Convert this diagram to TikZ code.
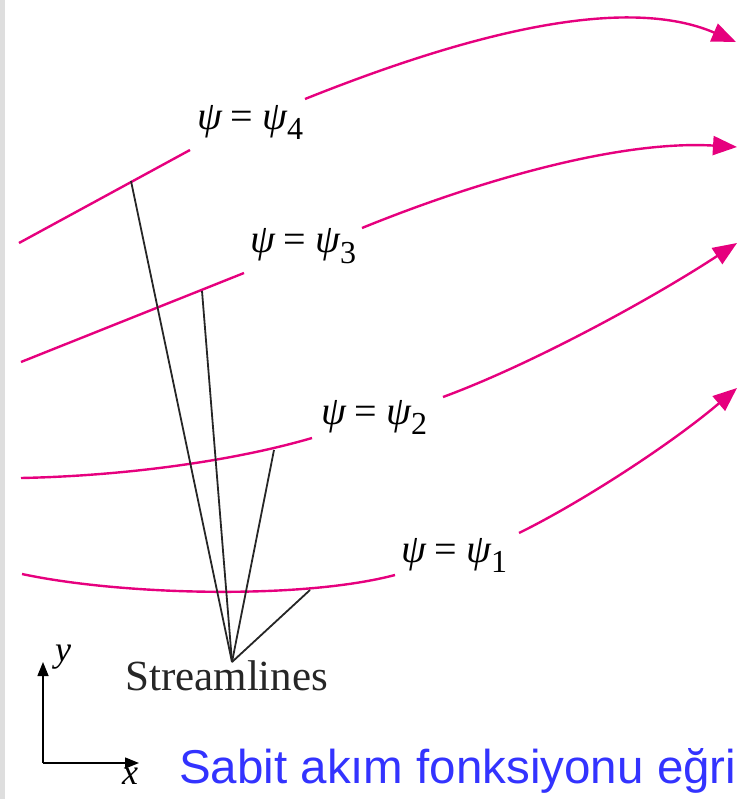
\documentclass[tikz,border=0pt]{standalone}
\usepackage{fontspec}
\setmainfont{Liberation Serif}
\newfontfamily\arialfont{Liberation Sans}
\usetikzlibrary{arrows.meta}
\definecolor{mag}{HTML}{E6007E}
\definecolor{sblue}{HTML}{3333FF}
\definecolor{lgrey}{HTML}{DEDEDE}
\newcommand{\psilabel}[1]{{\itshape ψ}\hspace{0.22em}=\hspace{0.22em}{\itshape ψ}\raisebox{-10pt}{\fontsize{32}{34}\selectfont #1}}
\begin{document}
\begin{tikzpicture}[x=1pt,y=-1pt,
  stream/.style={draw=mag, line width=2.4pt},
  streamarrow/.style={stream, -{Triangle[length=24pt,width=19pt]}},
  pointer/.style={draw=black!85, line width=1.8pt},
  axisarrow/.style={draw=black, line width=1.5pt, -{Triangle[length=14pt,width=11pt]}},
  psilbl/.style={font=\fontsize{40}{44}\selectfont, anchor=base west, inner sep=0pt},
  axlbl/.style={font=\fontsize{36}{40}\selectfont\itshape, inner sep=0pt}]
\useasboundingbox (0,0) rectangle (741,799);
\fill[lgrey] (0,0) rectangle (5,799);

% streamline 4
\coordinate (a4) at (19,243);
\coordinate (b4) at (190,150);
\coordinate (c4) at (305,99);
\coordinate (d4) at (736,42);
\draw[stream] (a4) -- (b4);
\draw[streamarrow] (c4) .. controls (455,39) and (620,-8) .. (d4);
\node[psilbl] (l4) at (197,130) {\psilabel{4}};

% streamline 3
\coordinate (a3) at (21,362);
\coordinate (b3) at (244,273);
\coordinate (c3) at (362,228);
\coordinate (d3) at (737,147);
\draw[stream] (a3) -- (b3);
\draw[streamarrow] (c3) .. controls (480,180) and (620,140) .. (d3);
\node[psilbl] (l3) at (250,253) {\psilabel{3}};

% streamline 2
\coordinate (a2) at (21,478);
\coordinate (b2) at (312,438);
\coordinate (c2) at (443,397);
\coordinate (d2) at (737,243);
\draw[stream] (a2) .. controls (120,476) and (230,462) .. (b2);
\draw[streamarrow] (c2) .. controls (530,365) and (650,300) .. (d2);
\node[psilbl] (l2) at (321,424) {\psilabel{2}};

% streamline 1
\coordinate (a1) at (22,574);
\coordinate (b1) at (395,575);
\coordinate (c1) at (519,533);
\coordinate (d1) at (737,388);
\draw[stream] (a1) .. controls (120,595) and (300,600) .. (b1);
\draw[streamarrow] (c1) .. controls (580,503) and (670,445) .. (d1);
\node[psilbl] (l1) at (401,562) {\psilabel{1}};

% pointers
\coordinate (conv) at (232,662);
\coordinate (p4) at (131,181);
\coordinate (p3) at (202,291);
\coordinate (p2) at (274,450);
\coordinate (p1) at (310,590);
\draw[pointer] (conv) -- (p4);
\draw[pointer] (conv) -- (p3);
\draw[pointer] (conv) -- (p2);
\draw[pointer] (conv) -- (p1);
\node[font=\fontsize{43}{48}\selectfont, text=black!85, anchor=base west, inner sep=0pt] (sl) at (125,690) {Streamlines};

% axes
\coordinate (org) at (43,763);
\coordinate (ytip) at (43,662);
\coordinate (xtip) at (139,763);
\draw[axisarrow] (org) -- (ytip);
\draw[axisarrow] (org) -- (xtip);
\node[axlbl] (ylab) at (63,657) {y};
\node[axlbl] (xlab) at (130,776) {x};

\node[font=\arialfont\fontsize{47.5}{52}\selectfont, text=sblue, anchor=base west, inner sep=0pt] (cap) at (179,783) {Sabit akım fonksiyonu eğri};
\end{tikzpicture}
\end{document}
